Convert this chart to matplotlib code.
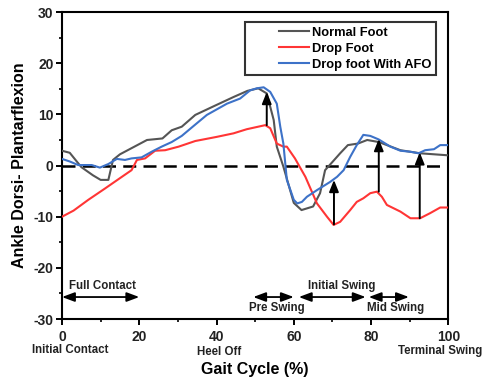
import matplotlib
matplotlib.use("Agg")
import matplotlib.pyplot as plt
from matplotlib.legend_handler import HandlerLine2D
from matplotlib.lines import Line2D

plt.rcParams['font.family'] = ['Liberation Sans', 'DejaVu Sans']
plt.rcParams['font.weight'] = 'bold'
plt.rcParams['axes.unicode_minus'] = False

# Normal foot
normal_x = [0, 2, 5, 8, 10, 12, 13.2, 15, 18, 22, 26, 28.4, 31, 34.5, 39, 44.4, 48, 50.8, 53, 54.8, 55.6, 57.3, 60, 62, 65, 66.8, 68.1, 70, 72, 74, 76.6, 79, 82, 87.6, 92.7, 100]
normal_y = [2.9, 2.5, -0.3, -1.9, -2.8, -2.8, 1.1, 2.2, 3.4, 5.0, 5.3, 6.9, 7.6, 9.9, 11.5, 13.4, 14.6, 15.1, 14.1, 8.9, 3.7, -0.2, -7.3, -8.7, -8.0, -5.4, -0.9, 0.7, 2.4, 4.0, 4.3, 5.0, 4.6, 3.0, 2.4, 2.0]

# Drop foot
drop_x = [0, 3, 6.8, 11.1, 15.5, 18, 19.4, 21.5, 24.1, 26.7, 30.2, 34.5, 40, 44.4, 47.8, 52.6, 53.9, 55.6, 57.3, 58.2, 60.3, 63, 66, 68.6, 70.3, 72, 74.6, 76.3, 78, 79.8, 81.5, 82.8, 84.1, 87.6, 90.2, 92.7, 95.3, 97.9, 100]
drop_y = [-10, -8.8, -6.7, -4.5, -2.2, -0.9, 1.1, 1.4, 2.9, 3.0, 3.7, 4.8, 5.6, 6.3, 7.1, 7.9, 7.3, 4.3, 3.7, 3.7, 1.4, -2.2, -7.4, -10, -11.6, -11.0, -8.7, -7.1, -6.4, -5.4, -5.1, -6.1, -7.7, -9.0, -10.3, -10.3, -9.3, -8.2, -8.2]

# Drop foot with AFO
afo_x = [0, 2, 4.2, 7.7, 9.8, 12, 14.2, 16.3, 18, 20.6, 23.2, 25.8, 28.4, 31, 34, 37.5, 42.7, 46.1, 48.7, 50.4, 52.2, 53.9, 55.6, 56.5, 57.3, 58.2, 60, 60.9, 62.1, 63.4, 66, 69.4, 71.2, 72.9, 74.6, 76.3, 78, 79.8, 82, 85, 87.6, 90.2, 92.3, 94, 96.3, 97.9, 100]
afo_y = [1.3, 0.8, 0.1, 0.1, -0.4, 0.3, 1.3, 1.1, 1.4, 1.6, 2.7, 3.7, 4.6, 5.8, 7.7, 9.9, 12.1, 13.1, 14.7, 15.1, 15.3, 14.4, 12.1, 7.6, 4.3, -2.8, -6.7, -7.4, -7.1, -6.1, -4.8, -3.2, -2.2, -0.9, 1.7, 4.0, 6.0, 5.8, 5.1, 3.7, 2.9, 2.7, 2.4, 3.0, 3.2, 4.0, 4.0]

# Improvement arrows
arrow_x = [53, 70.4, 82, 92.6]
arrow_from = [7.9, -11.5, -5.1, -10.3]
arrow_to = [14.4, -2.8, 5.2, 2.6]

# Phase annotations
phase_start = [0, 49.5, 61.3, 79.4]
phase_end = [20, 60, 78.6, 89.8]
phase_labels = ['Full Contact', 'Pre Swing', 'Initial Swing', 'Mid Swing']
phase_label_x = [10.5, 55.5, 72.4, 86.3]
phase_label_y = [-23.6, -27.8, -23.6, -27.8]
phase_y = -25.7

event_labels = ['Initial Contact', 'Heel Off', 'Terminal Swing']
event_x = [2.2, 40.8, 97.8]
event_y = [-34.9, -35.3, -35.1]


class RightLine(HandlerLine2D):
    """Legend line drawn only in the right part of the handle area."""
    def create_artists(self, legend, orig_handle, xdescent, ydescent,
                       width, height, fontsize, trans):
        arts = super().create_artists(legend, orig_handle, xdescent, ydescent,
                                      width, height, fontsize, trans)
        for a in arts:
            if isinstance(a, Line2D) and a.get_linestyle() not in ('None', ''):
                xd = list(a.get_xdata())
                yd = list(a.get_ydata())
                if len(xd) >= 2:
                    x0, x1 = min(xd), max(xd)
                    a.set_data([x0 + 0.49 * (x1 - x0), x1], [yd[0], yd[0]])
        return arts


fig = plt.figure(figsize=(4.89, 3.78), dpi=100)
ax = fig.add_axes([0.1268, 0.156, 0.790, 0.812])

l1, = ax.plot(normal_x, normal_y, color='#555555', lw=1.5, label='Normal Foot', zorder=3)
l2, = ax.plot(drop_x, drop_y, color='#ff3535', lw=1.5, label='Drop Foot', zorder=3)
l3, = ax.plot(afo_x, afo_y, color='#3d72c8', lw=1.5, label='Drop foot With AFO', zorder=4)

ax.axhline(0, color='black', lw=1.8, ls=(0, (5.2, 2.9)), zorder=2)

for xa, y0, y1 in zip(arrow_x, arrow_from, arrow_to):
    ax.annotate('', xy=(xa, y1), xytext=(xa, y0),
                arrowprops=dict(arrowstyle='-|>,head_length=0.7,head_width=0.28',
                                color='black', lw=1.4, shrinkA=0, shrinkB=0), zorder=5)

for s, e, lab, lx, ly in zip(phase_start, phase_end, phase_labels, phase_label_x, phase_label_y):
    ax.annotate('', xy=(e, phase_y), xytext=(s, phase_y),
                arrowprops=dict(arrowstyle='<|-|>,head_length=0.75,head_width=0.28',
                                color='black', lw=1.3, shrinkA=0, shrinkB=0))
    ax.text(lx, ly, lab, ha='center', va='center', fontsize=8.3, fontweight='bold', color='#222222')

ax.set_xlim(0, 100)
ax.set_ylim(-30, 30)
ax.set_xticks([0, 20, 40, 60, 80, 100])
ax.set_xticks([10, 30, 50, 70, 90], minor=True)
ax.set_yticks([-30, -20, -10, 0, 10, 20, 30])
ax.set_yticks([-25, -15, -5, 5, 15, 25], minor=True)
ax.tick_params(which='major', direction='out', length=4, width=1.4, labelsize=10, pad=2)
ax.tick_params(axis='x', which='major', pad=4)
ax.tick_params(which='minor', direction='out', length=2.5, width=1.2)
for lab in ax.get_xticklabels() + ax.get_yticklabels():
    lab.set_fontweight('bold')
    lab.set_color('#222222')
for sp in ax.spines.values():
    sp.set_linewidth(1.5)

ax.set_xlabel('Gait Cycle (%)', fontsize=11.5, fontweight='bold', labelpad=13)
ax.set_ylabel('Ankle Dorsi- Plantarflexion', fontsize=11.5, fontweight='bold', labelpad=5)

for lab, ex, ey in zip(event_labels, event_x, event_y):
    ax.text(ex, ey, lab, ha='center', va='top', fontsize=8.3, fontweight='bold', color='#222222')

leg = ax.legend(handles=[l1, l2, l3], loc='upper right', bbox_to_anchor=(0.968, 0.967),
                borderaxespad=0, fontsize=9.3, frameon=True, fancybox=False,
                handlelength=4.6, handletextpad=0.25, labelspacing=0.3, borderpad=0.35,
                handler_map={Line2D: RightLine()})
leg.get_frame().set_edgecolor('black')
leg.get_frame().set_linewidth(1.5)
for t in leg.get_texts():
    t.set_fontweight('bold')

fig.savefig('out.png', dpi=100)
